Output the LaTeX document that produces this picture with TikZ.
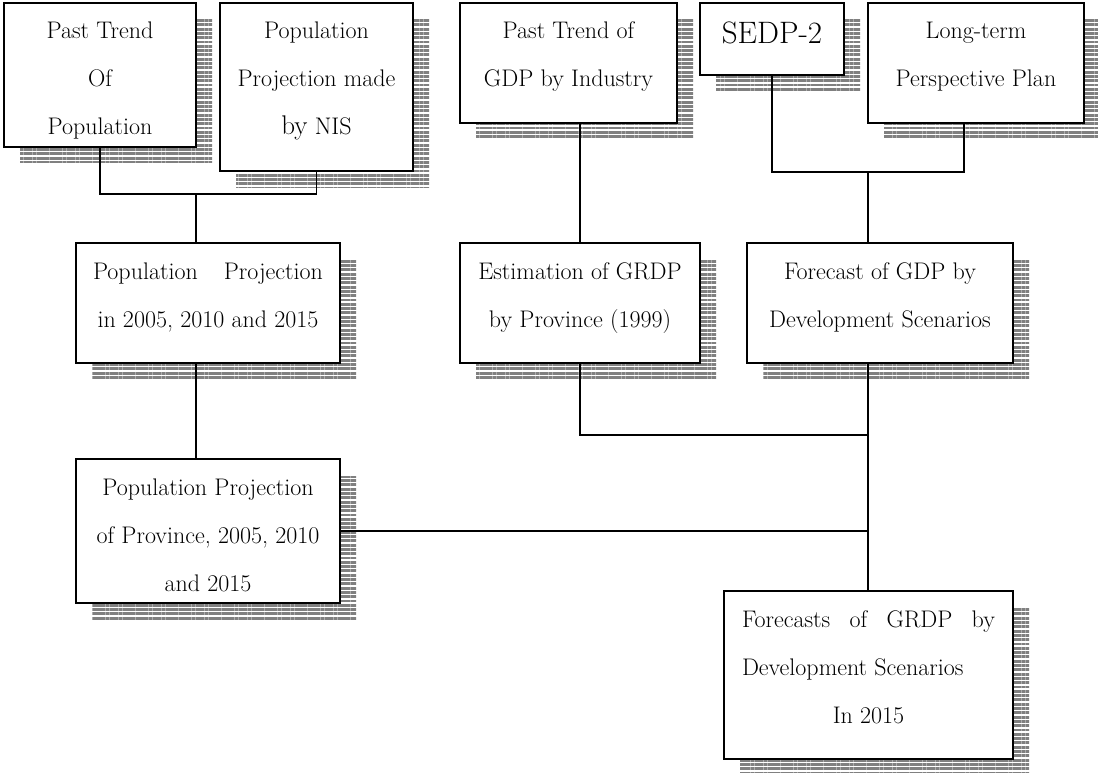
\documentclass[tikz,border=0pt]{standalone}
\usepackage{fontspec}
\usetikzlibrary{calc,patterns.meta}
\definecolor{shade}{RGB}{128,128,128}
\pgfdeclarelayer{background}
\pgfsetlayers{background,main}
% width, height, first baseline, text
\newcommand{\boxtext}[4]{\parbox[c][#2pt][t]{#1pt}{\centering\rule{0pt}{#3pt}#4}}
\tikzset{
  box/.style={draw=black, line width=1.5pt, fill=white, inner sep=0pt, outer sep=0pt,
    anchor=north west, font=\fontsize{24}{48}\selectfont},
  shadowfill/.style={pattern={Lines[angle=0,distance=4.3pt,line width=2.9pt]}, pattern color=shade},
  link/.style={draw=black, line width=1.5pt},
}
\begin{document}
\begin{tikzpicture}[x=1pt,y=-1pt]
\useasboundingbox (0,0) rectangle (1098,773);

% top row
\node[box] (A) at (4,3)   {\boxtext{192}{144}{36}{Past Trend\\Of\\Population}};
\node[box] (B) at (220,3) {\boxtext{193}{168}{36}{Population\\Projection made\\{\fontsize{27}{48}\selectfont by} NIS}};
\node[box] (C) at (460,3) {\boxtext{217}{120}{36}{Past Trend of\\GDP by Industry}};
\node[box, font=\fontsize{31}{48}\selectfont] (S) at (700,3) {\boxtext{144}{72}{41}{SEDP-2}};
\node[box] (L) at (868,3) {\boxtext{216}{120}{36}{Long-term\\Perspective Plan}};

% middle row
\node[box] (D) at (76,243)  {\boxtext{264}{120}{36}{\makebox[230pt][s]{Population Projection}\\in 2005, 2010 and 2015}};
\node[box] (G) at (460,243) {\boxtext{240}{120}{36}{Estimation of GRDP\\by Province (1999)}};
\node[box] (H) at (747,243) {\boxtext{266}{120}{36}{Forecast of GDP by\\Development Scenarios}};

% lower boxes
\node[box] (E) at (76,459)  {\boxtext{264}{144}{36}{Population Projection\\of Province, 2005, 2010\\and 2015}};
\node[box] (F) at (724,591) {\boxtext{289}{168}{36}{\makebox[253pt][s]{Forecasts of GRDP by}\\\makebox[253pt][l]{Development Scenarios}\\In 2015}};

% striped drop shadows
\begin{pgfonlayer}{background}
\foreach \b in {A,B,C,S,L,D,G,H,E,F}
  \fill[shadowfill] ($(\b.north west)+(16,17)$) rectangle ($(\b.south east)+(16,16)$);
\end{pgfonlayer}

% junction points and off-centre ports
\coordinate (J1) at (196,194);
\coordinate (J2) at (868,172);
\coordinate (J3) at (868,435);
\coordinate (Lp) at (964,123);
\coordinate (Cp) at (580,123);

% connectors
\draw[link] (A.south) |- (J1) -| (B.south);
\draw[link] (J1) -- (J1 |- D.north);
\draw[link] (J1 |- D.south) -- (J1 |- E.north);
\draw[link] (Cp) -- (G.north);
\draw[link] (S.south) |- (J2) -| (Lp);
\draw[link] (J2) -- (J2 |- H.north);
\draw[link] (G.south) |- (J3);
\draw[link] (J3 |- H.south) -- (J3 |- F.north);
\draw[link] (E.east) -- (E.east -| J3);
\end{tikzpicture}
\end{document}
